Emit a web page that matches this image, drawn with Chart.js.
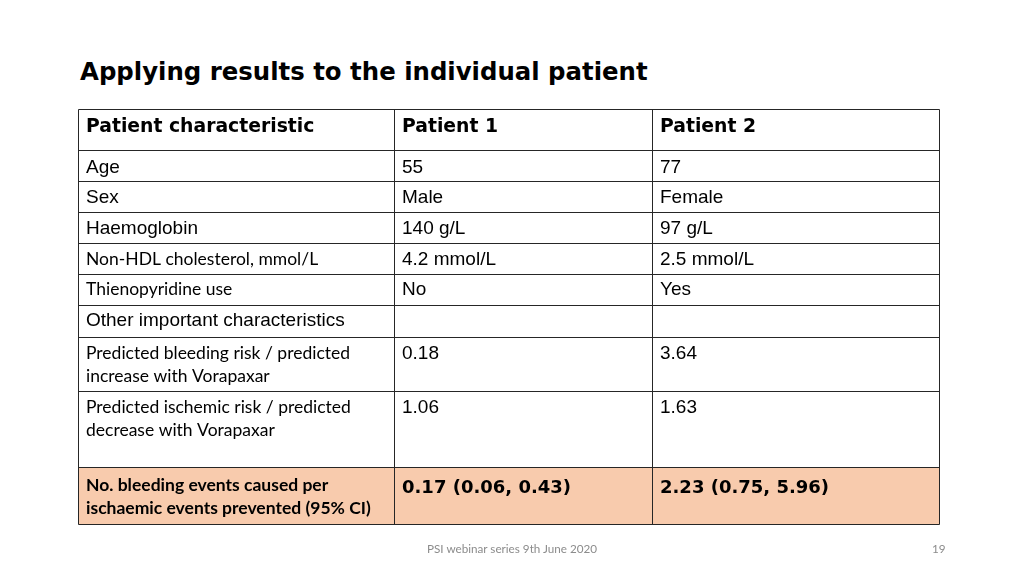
<!DOCTYPE html>
<html lang="en">
<head>
    <meta charset="UTF-8">
    <title>Applying results to the individual patient</title>
    <script src="https://cdn.jsdelivr.net/npm/chart.js"></script>
    <style>
        html, body { margin: 0; padding: 0; background: #fff; }
        .slide { position: relative; width: 1024px; height: 576px; overflow: hidden; }
        h1 {
            position: absolute; left: 80px; top: 57px; margin: 0; line-height: 24px; white-space: nowrap;
            font: bold 24.4px "DejaVu Sans", sans-serif; color: #000;
        }
        .chart-container { position: absolute; left: 0; top: 0; width: 1024px; height: 576px; }
        .footer {
            position: absolute; top: 541px; font: 11.7px Lato, "Noto Sans", sans-serif; color: #8c8c8c;
        }
    </style>
</head>
<body>
<div class="slide">
    <h1>Applying results to the individual patient</h1>
    <div class="chart-container"><canvas id="tableChart"></canvas></div>
    <div class="footer" style="left: 427px;">PSI webinar series 9th June 2020</div>
    <div class="footer" style="left: 932px;">19</div>
</div>

<script>
    // Données du tableau
    var headers = ['Patient characteristic', 'Patient 1', 'Patient 2'];
    var characteristics = [
        'Age',
        'Sex',
        'Haemoglobin',
        'Non-HDL cholesterol, mmol/L',
        'Thienopyridine use',
        'Other important characteristics',
        'Predicted bleeding risk / predicted\nincrease with Vorapaxar',
        'Predicted ischemic risk / predicted\ndecrease with Vorapaxar',
        'No. bleeding events caused per\nischaemic events prevented (95% CI)'
    ];
    var patient1 = ['55', 'Male', '140 g/L', '4.2 mmol/L', 'No', '', '0.18', '1.06', '0.17 (0.06, 0.43)'];
    var patient2 = ['77', 'Female', '97 g/L', '2.5 mmol/L', 'Yes', '', '3.64', '1.63', '2.23 (0.75, 5.96)'];

    // Mise en page (bords des colonnes / lignes, en px relatifs au tableau)
    var colEdges = [0, 316, 574, 861];
    var rowEdges = [0, 41, 72, 103, 134, 165, 196, 228, 282, 358, 415];
    var baselines = [23, 23, 22, 22, 22, 21, 21, 22, 22, 24];
    var calibriRows = [3, 4, 6, 7, 8]; // lignes en police "Calibri" (colonne 1)
    var highlightRow = 8;

    var ARIAL = '"Liberation Sans", Arial, sans-serif';
    var HEAVY = '"DejaVu Sans", sans-serif';
    var CALIBRI = 'Lato, "Noto Sans", sans-serif';

    var tablePlugin = {
        id: 'tableCells',
        afterDraw: function (chart) {
            var ctx = chart.ctx;
            var x = chart.scales.x, y = chart.scales.y;
            var px = function (v) { return Math.round(x.getPixelForValue(v)) + 0.5; };
            var py = function (v) { return Math.round(y.getPixelForValue(v)) + 0.5; };
            var columns = [characteristics, patient1, patient2];
            ctx.save();

            // fond de la dernière ligne
            var hTop = py(rowEdges[highlightRow + 1]), hBot = py(rowEdges[highlightRow + 2]);
            ctx.fillStyle = '#f8cbad';
            ctx.fillRect(px(colEdges[0]), hTop, px(colEdges[3]) - px(colEdges[0]), hBot - hTop);

            // textes
            ctx.fillStyle = '#000';
            ctx.textBaseline = 'alphabetic';
            ctx.textAlign = 'left';
            for (var c = 0; c < 3; c++) {
                var left = x.getPixelForValue(colEdges[c]) + 8;
                ctx.font = 'bold 18.8px ' + HEAVY;
                ctx.fillText(headers[c], left, y.getPixelForValue(rowEdges[0]) + baselines[0]);
                for (var r = 0; r < characteristics.length; r++) {
                    var top = y.getPixelForValue(rowEdges[r + 1]);
                    var bold = r === highlightRow;
                    var base = baselines[r + 1];
                    if (c === 0 && calibriRows.indexOf(r) >= 0) {
                        ctx.font = (bold ? 'bold ' : '') + '17.5px ' + CALIBRI;
                    } else if (bold) {
                        ctx.font = 'bold 18px ' + HEAVY;
                        base = 26;
                    } else {
                        ctx.font = '19px ' + ARIAL;
                    }
                    var lines = columns[c][r].split('\n');
                    for (var l = 0; l < lines.length; l++) {
                        ctx.fillText(lines[l], left, top + base + l * 22.5);
                    }
                }
            }

            // grille
            ctx.strokeStyle = '#262626';
            ctx.lineWidth = 1;
            ctx.beginPath();
            rowEdges.forEach(function (v) {
                ctx.moveTo(px(colEdges[0]), py(v));
                ctx.lineTo(px(colEdges[3]), py(v));
            });
            colEdges.forEach(function (v) {
                ctx.moveTo(px(v), py(rowEdges[0]));
                ctx.lineTo(px(v), py(rowEdges[rowEdges.length - 1]));
            });
            ctx.stroke();
            ctx.restore();
        }
    };

    var tableChart = new Chart(document.getElementById('tableChart'), {
        type: 'scatter',
        data: { datasets: [] },
        options: {
            responsive: true,
            maintainAspectRatio: false,
            animation: false,
            layout: { padding: { left: 78, top: 109, right: 85, bottom: 52 } },
            plugins: { legend: { display: false }, tooltip: { enabled: false } },
            scales: {
                x: { type: 'linear', min: colEdges[0], max: colEdges[3], display: false },
                y: { type: 'linear', min: rowEdges[0], max: rowEdges[rowEdges.length - 1], reverse: true, display: false }
            }
        },
        plugins: [tablePlugin]
    });
</script>
</body>
</html>
